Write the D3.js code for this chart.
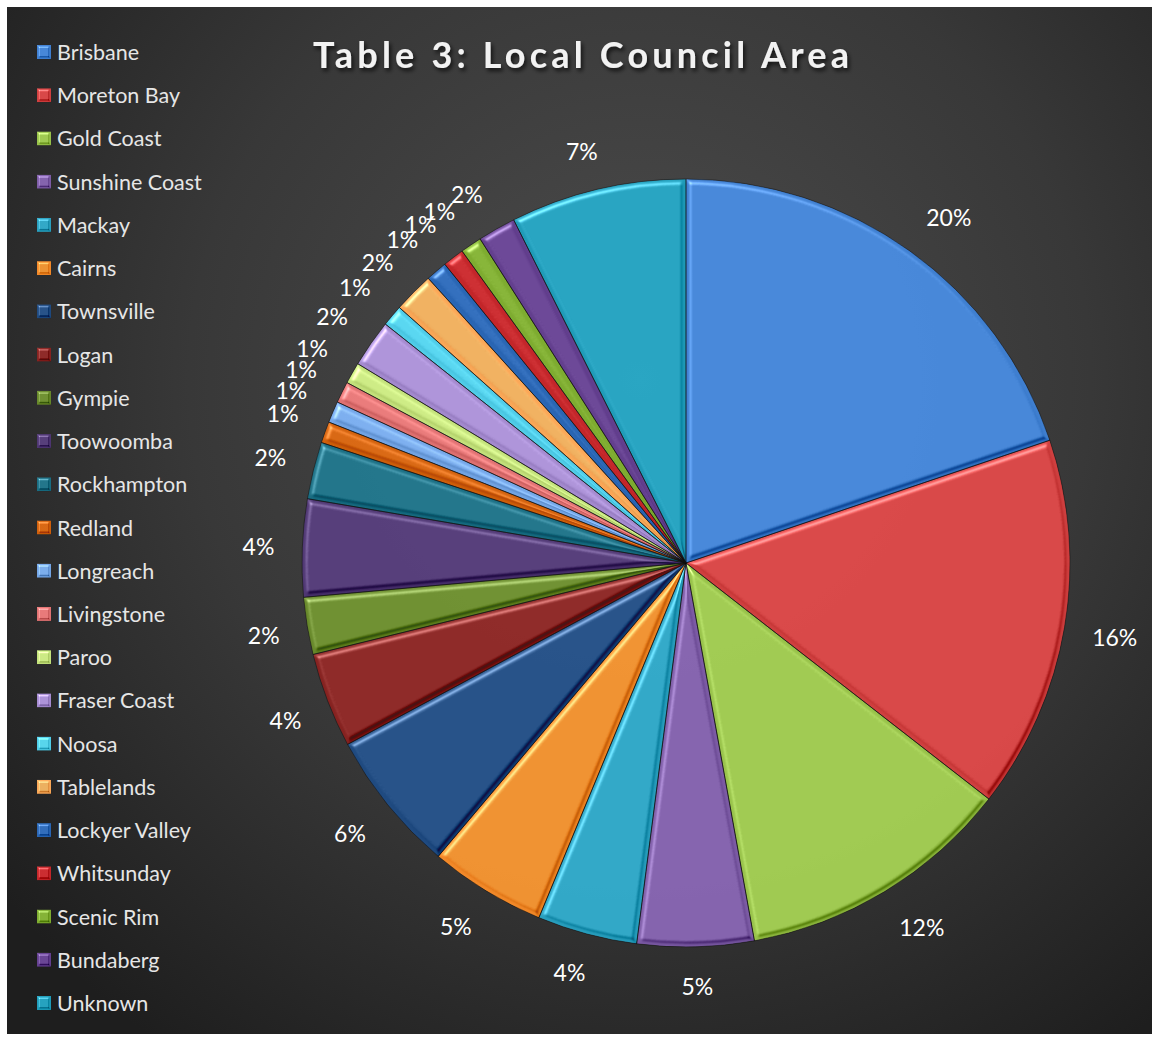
<!DOCTYPE html>
<html>
<head>
<meta charset="utf-8">
<script src="https://cdn.jsdelivr.net/npm/d3@7"></script>
<style>
  html, body { margin: 0; padding: 0; background: #ffffff; }
  svg { display: block; }
</style>
</head>
<body>
<svg id="chart" width="1152" height="1037"></svg>
<script>
// ---- data ----
const titleText = "Table 3: Local Council Area";
const categories = ["Brisbane", "Moreton Bay", "Gold Coast", "Sunshine Coast", "Mackay", "Cairns",
  "Townsville", "Logan", "Gympie", "Toowoomba", "Rockhampton", "Redland", "Longreach",
  "Livingstone", "Paroo", "Fraser Coast", "Noosa", "Tablelands", "Lockyer Valley",
  "Whitsunday", "Scenic Rim", "Bundaberg", "Unknown"];
const values = [19.8, 15.7, 11.6, 4.9, 4.2, 4.9, 6.0, 4.0, 2.4, 4.1, 2.4, 0.9, 0.9,
  0.9, 0.9, 2.0, 0.9, 1.7, 0.9, 0.9, 0.9, 1.6, 7.4];
const colors = ["#3f7fd0", "#d04040", "#98c24a", "#7d5ca6", "#2aa0bf", "#f38a2a",
  "#1f4a80", "#862220", "#67882a", "#4e3672", "#1a6d82", "#d0600c", "#74a6e6",
  "#e07272", "#c4e27c", "#a58bd0", "#50cde8", "#faa858", "#2a66b4",
  "#c4262a", "#7eac30", "#633f8e", "#1f9bb8"];

// ---- layout ----
const svg = d3.select("#chart");
const W = 1152, H = 1037;
const cx = 686, cy = 563, R = 384;

const defs = svg.append("defs");
const bg = defs.append("radialGradient").attr("id", "bg")
  .attr("gradientUnits", "userSpaceOnUse")
  .attr("cx", 640).attr("cy", 380).attr("r", 820);
bg.append("stop").attr("offset", "0%").attr("stop-color", "#4d4d4d");
bg.append("stop").attr("offset", "55%").attr("stop-color", "#383838");
bg.append("stop").attr("offset", "100%").attr("stop-color", "#1e1e1e");

// bevel filter: highlight from top-left light, darkening from opposite
function bevel(id, blurSd, scale, k) {
  const f = defs.append("filter").attr("id", id)
    .attr("x", "-5%").attr("y", "-5%").attr("width", "110%").attr("height", "110%")
    .attr("color-interpolation-filters", "sRGB");
  f.append("feGaussianBlur").attr("in", "SourceAlpha").attr("stdDeviation", blurSd).attr("result", "blur");
  const s1 = f.append("feSpecularLighting").attr("in", "blur").attr("surfaceScale", scale)
    .attr("specularConstant", 1).attr("specularExponent", 12)
    .attr("lighting-color", "#ffffff").attr("result", "s1");
  s1.append("feDistantLight").attr("azimuth", 235).attr("elevation", 35);
  const s2 = f.append("feSpecularLighting").attr("in", "blur").attr("surfaceScale", scale)
    .attr("specularConstant", 1).attr("specularExponent", 12)
    .attr("lighting-color", "#ffffff").attr("result", "s2");
  s2.append("feDistantLight").attr("azimuth", 55).attr("elevation", 35);
  f.append("feComposite").attr("in", "SourceGraphic").attr("in2", "s1")
    .attr("operator", "arithmetic").attr("k1", 0).attr("k2", 1).attr("k3", k).attr("k4", 0).attr("result", "a");
  f.append("feComposite").attr("in", "a").attr("in2", "s2")
    .attr("operator", "arithmetic").attr("k1", 0).attr("k2", 1).attr("k3", -k * 0.8).attr("k4", 0).attr("result", "b");
  f.append("feComposite").attr("in", "b").attr("in2", "SourceAlpha").attr("operator", "in");
}
bevel("bevel", 2.5, 5, 0.4);
bevel("bevelSmall", 1.2, 3, 0.45);

// title shadow
const ts = defs.append("filter").attr("id", "tshadow").attr("x", "-10%").attr("y", "-30%").attr("width", "120%").attr("height", "160%");
ts.append("feDropShadow").attr("dx", 2).attr("dy", 3).attr("stdDeviation", 2).attr("flood-color", "#000").attr("flood-opacity", 0.7);

// background
svg.append("rect").attr("x", 7).attr("y", 7).attr("width", W - 7).attr("height", 1034 - 7)
  .attr("fill", "url(#bg)");

// title
svg.append("text")
  .attr("x", 581).attr("y", 68)
  .attr("text-anchor", "middle")
  .attr("font-family", "Lato, 'Open Sans', sans-serif")
  .attr("font-weight", "bold")
  .attr("font-size", 36)
  .attr("fill", "#f2f2f2")
  .attr("textLength", 536)
  .attr("lengthAdjust", "spacing")
  .attr("filter", "url(#tshadow)")
  .text(titleText);

// pie
const data = categories.map((c, i) => ({ cat: c, value: values[i], color: colors[i] }));
const total = d3.sum(values);
const pie = d3.pie().sort(null).value(d => d.value);
const arc = d3.arc().innerRadius(0).outerRadius(R);
const arcs = pie(data);
const fmt = d3.format(".0%");

const g = svg.append("g").attr("transform", `translate(${cx},${cy})`);
g.selectAll("path.slice").data(arcs).enter().append("path")
  .attr("class", "slice")
  .attr("d", arc)
  .attr("fill", d => d.data.color)
  .attr("filter", "url(#bevel)");
g.selectAll("path.sep").data(arcs).enter().append("path")
  .attr("class", "sep")
  .attr("d", arc)
  .attr("fill", "none")
  .attr("stroke", "rgba(15,15,15,0.5)")
  .attr("stroke-width", 1);

// labels (outside end): anchor on a ring, text box pushed outward
const clamp = v => Math.max(-1, Math.min(1, v));
const Ra = R + 28;
const labG = g.append("g");
arcs.forEach(d => {
  const a = (d.startAngle + d.endAngle) / 2;
  const sx = Math.sin(a), sy = -Math.cos(a);
  const t = labG.append("text")
    .attr("font-family", "Lato, 'Open Sans', sans-serif")
    .attr("font-size", 23)
    .attr("fill", "#ffffff")
    .attr("text-anchor", "middle")
    .attr("dominant-baseline", "central")
    .text(fmt(d.data.value / total));
  const bb = t.node().getBBox();
  const x = Ra * sx + (bb.width / 2) * clamp(2.5 * sx);
  const y = Ra * sy + 11 * clamp(2.5 * sy);
  t.attr("x", x).attr("y", y);
});

// legend
const legY = d3.scalePoint().domain(categories).range([52, 1003]);
const leg = svg.append("g");
categories.forEach((c, i) => {
  const y = legY(c);
  leg.append("rect")
    .attr("x", 37).attr("y", y - 7).attr("width", 14).attr("height", 14)
    .attr("fill", colors[i])
    .attr("filter", "url(#bevelSmall)");
  leg.append("text")
    .attr("x", 57).attr("y", y)
    .attr("dominant-baseline", "central")
    .attr("font-family", "Lato, 'Open Sans', sans-serif")
    .attr("font-size", 21.5)
    .attr("fill", "#e6e6e6")
    .text(c);
});
</script>
</body>
</html>
